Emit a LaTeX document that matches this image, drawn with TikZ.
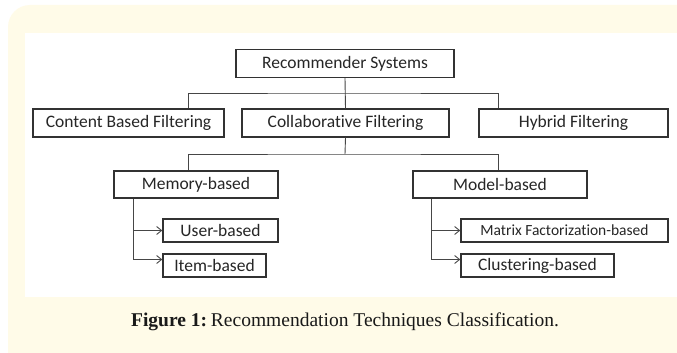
\documentclass[tikz,border=0pt]{standalone}
\usepackage{fontspec}
\setmainfont{Carlito}[Ligatures=NoCommon]
\newfontfamily\capfont{Liberation Serif}
\usetikzlibrary{arrows.meta}

\definecolor{cream}{RGB}{255,251,232}
\definecolor{edge}{RGB}{50,50,50}
\definecolor{wire}{RGB}{70,70,70}

\tikzset{
  box/.style={draw=edge, line width=1.4pt, fill=white, inner sep=0pt,
              font=\fontsize{17.5}{20}\selectfont, text=black!85},
  smallbox/.style={box, font=\fontsize{15.5}{18}\selectfont},
  wireline/.style={draw=wire, line width=0.9pt},
  arr/.style={wireline, -{Straight Barb[length=5pt,width=8pt,line width=0.9pt]}},
}

\begin{document}
\begin{tikzpicture}[x=1pt, y=-1pt]
  % page, cream panel and white figure area
  \useasboundingbox (0,0) rectangle (677,353);
  \fill[white] (0,0) rectangle (677,353);
  \fill[cream, rounded corners=22pt] (8,5) rectangle (700,380);
  \fill[white] (25,33) rectangle (677,297);

  % top level
  \node[box, minimum width=218pt, minimum height=28pt] (rs) at (345,63.5) {Recommender Systems};

  % second level
  \node[box, minimum width=191pt, minimum height=28pt] (cbf) at (128.5,123) {Content Based Filtering};
  \node[box, minimum width=207pt, minimum height=28pt] (cf)  at (345.5,123) {Collaborative Filtering};
  \node[box, minimum width=189pt, minimum height=28pt] (hf)  at (573.5,123) {Hybrid Filtering};

  % third level
  \node[box, minimum width=164pt, minimum height=27pt] (mem) at (196,184.5) {Memory-based};
  \node[box, minimum width=174pt, minimum height=27pt] (mod) at (500,184.5) {Model-based};

  % leaves
  \node[box, minimum width=115pt, minimum height=23pt] (ub) at (220.5,230.5) {User-based};
  \node[box, minimum width=103pt, minimum height=23pt] (ib) at (214.5,265.5) {Item-based};
  \node[smallbox, minimum width=207pt, minimum height=23pt] (mf) at (564.5,230.5) {Matrix Factorization-based};
  \node[box, minimum width=153pt, minimum height=23pt] (cl) at (537.5,265.5) {Clustering-based};

  % branch columns and junctions
  \coordinate (xl) at (188,0);
  \coordinate (xr) at (498,0);
  \coordinate (xm) at (133,0);
  \coordinate (xd) at (431,0);
  \coordinate (j1) at (345,93);
  \coordinate (j2) at (345,154);

  % connectors
  \draw[wireline] (rs.south) -- (cf.north);
  \draw[wireline] (xl |- cbf.north) |- (j1) -| (xr |- hf.north);
  \draw[wireline] (cf.south) -- (j2);
  \draw[wireline] (xl |- mem.north) |- (j2) -| (xr |- mod.north);

  \draw[arr] (xm |- mem.south) |- ([yshift=6pt]ib.west);
  \draw[arr] (xm |- ub.west) -- (ub.west);
  \draw[arr] (xd |- mod.south) |- ([yshift=6pt]cl.west);
  \draw[arr] (xd |- mf.west) -- (mf.west);

  % caption
  \node[font=\capfont\fontsize{19.5}{22}\selectfont, text=black!90] (cap) at (345,322)
    {\textbf{Figure 1:}\hspace{0.2em}Recommendation Techniques Classification.};
\end{tikzpicture}
\end{document}
